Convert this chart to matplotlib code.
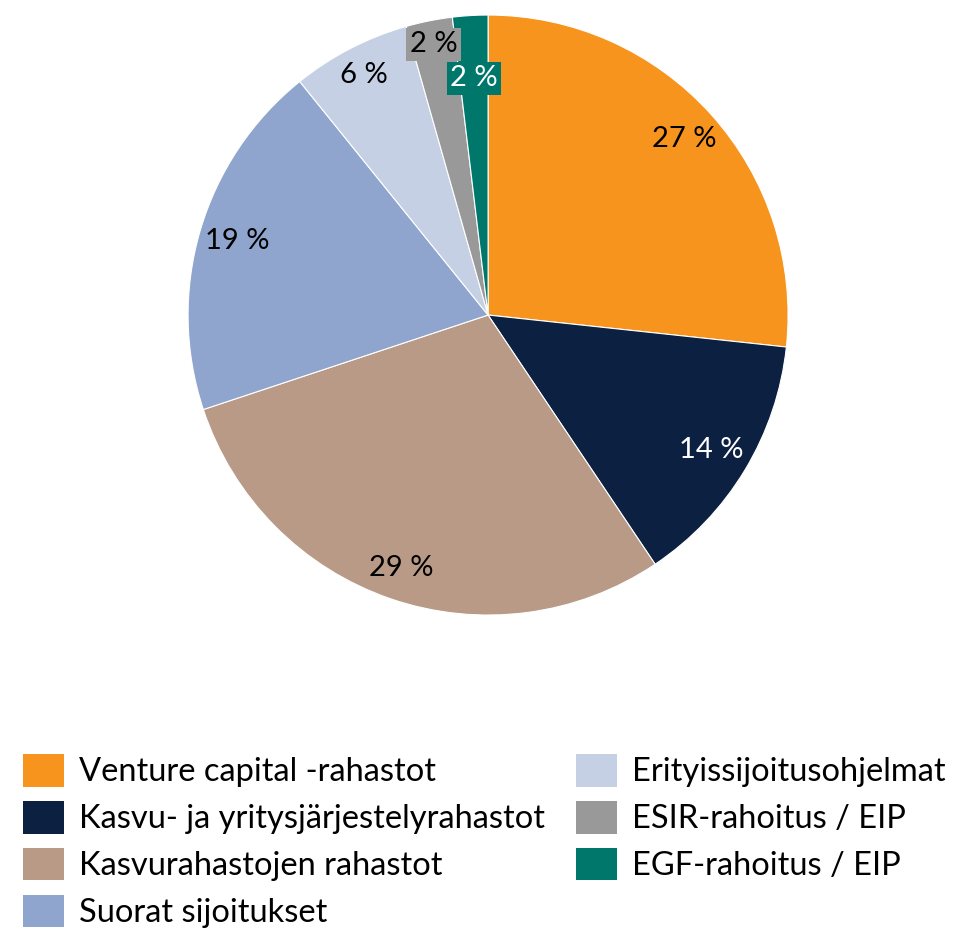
import numpy as np
import matplotlib.pyplot as plt
from matplotlib.patches import Patch

plt.rcParams['font.family'] = ['Lato', 'DejaVu Sans']

# share of commitments, %
labels = ['Venture capital -rahastot', 'Kasvu- ja yritysjärjestelyrahastot',
          'Kasvurahastojen rahastot', 'Suorat sijoitukset',
          'Erityissijoitusohjelmat', 'ESIR-rahoitus / EIP', 'EGF-rahoitus / EIP']
values = [26.7, 13.9, 29.3, 19.3, 6.4, 2.5, 1.9]
colors = ['#F7941D', '#0C2042', '#B89A86', '#8FA5CD', '#C5D0E4', '#999999', '#00776B']
text_colors = ['black', 'white', 'black', 'black', 'black', 'black', 'white']

fig = plt.figure(figsize=(9.57, 9.34), dpi=100)
ax = fig.add_axes([0.1965, 0.3415, 0.627, 0.6424])

wedges, _ = ax.pie(values, colors=colors, startangle=90, counterclock=False,
                   wedgeprops=dict(edgecolor='white', linewidth=0.8))
ax.set_xlim(-1, 1)
ax.set_ylim(-1, 1)
ax.set_aspect('equal')

# percentage labels near the rim
dist = [0.88, 0.87, 0.89, 0.87, 0.90, 0.92, 0.79]
for i, w in enumerate(wedges):
    ang = np.deg2rad((w.theta1 + w.theta2) / 2)
    x = dist[i] * np.cos(ang)
    y = dist[i] * np.sin(ang)
    box = None
    if i >= 5:
        box = dict(boxstyle='square,pad=0.12', facecolor=colors[i], edgecolor='none')
    ax.text(x, y, '%d %%' % round(values[i]), ha='center', va='center',
            fontsize=21, color=text_colors[i], bbox=box)

handles = [Patch(facecolor=c, edgecolor='none') for c in colors]
fig.legend(handles, labels, ncol=2, loc='upper left', bbox_to_anchor=(0.007, 0.21),
           frameon=False, fontsize=23.5, handlelength=1.26, handleheight=1.15,
           handletextpad=0.45, labelspacing=0.42, columnspacing=0.95, borderpad=0)

fig.savefig('out.png', dpi=100)
